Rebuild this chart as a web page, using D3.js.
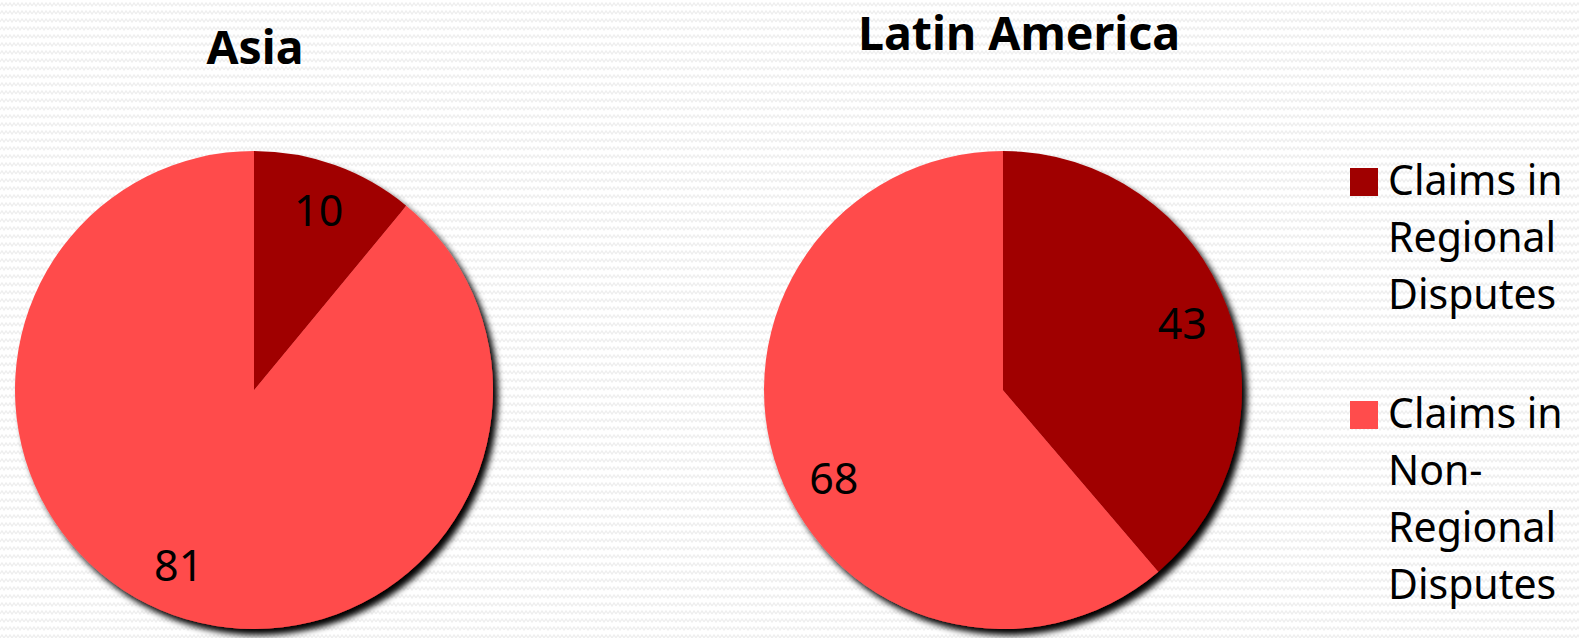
<!DOCTYPE html>
<html>
<head>
<meta charset="utf-8">
<script src="https://cdn.jsdelivr.net/npm/d3@7"></script>
<style>
  html, body { margin: 0; padding: 0; background: #fff; }
  svg { display: block; font-family: "Noto Sans", "Open Sans", sans-serif; }
</style>
</head>
<body>
<svg id="chart" width="1579" height="638"></svg>
<script>
// data
const categories = ["Claims in Regional Disputes", "Claims in Non-Regional Disputes"];
const regions = ["Asia", "Latin America"];
const asiaValues = [10, 81];
const latinValues = [43, 68];
const legendLines = [
  ["Claims in", "Regional", "Disputes"],
  ["Claims in", "Non-", "Regional", "Disputes"]
];
const colors = ["#A00000", "#FF4C4C"];

const svg = d3.select("#chart");
const W = 1579, H = 638;

// background zigzag pattern
const defs = svg.append("defs");
const pat = defs.append("pattern")
  .attr("id", "zig")
  .attr("width", 8).attr("height", 8)
  .attr("patternUnits", "userSpaceOnUse");
pat.append("polyline")
  .attr("points", "0,6 2,3 4,6 6,3 8,6")
  .attr("fill", "none")
  .attr("stroke", "#eeeeee")
  .attr("stroke-width", 1.3);

const shadow = defs.append("filter")
  .attr("id", "shadow")
  .attr("x", "-10%").attr("y", "-10%")
  .attr("width", "125%").attr("height", "125%");
shadow.append("feDropShadow")
  .attr("dx", 5).attr("dy", 6)
  .attr("stdDeviation", 3)
  .attr("flood-color", "#000")
  .attr("flood-opacity", 1);

svg.append("rect").attr("width", W).attr("height", H).attr("fill", "#fff");
svg.append("rect").attr("width", W).attr("height", H).attr("fill", "url(#zig)");

const color = d3.scaleOrdinal().domain(categories).range(colors);
const pie = d3.pie().sort(null).value(d => d.value);
const R = 239;
const arc = d3.arc().innerRadius(0).outerRadius(R);
const labelArc = d3.arc().innerRadius(R * 0.8).outerRadius(R * 0.8);

// label angle nudge (radians) for the big slice, Excel best-fit look
const charts = [
  { name: regions[0], values: asiaValues, cx: 254, cy: 390, titleX: 255, titleY: 64, titleW: 97, nudge: 0.06 },
  { name: regions[1], values: latinValues, cx: 1003, cy: 390, titleX: 1019, titleY: 50, titleW: 322, nudge: -0.13 }
];

charts.forEach(c => {
  const data = categories.map((k, i) => ({ key: k, value: c.values[i] }));
  const g = svg.append("g").attr("transform", `translate(${c.cx},${c.cy})`);

  g.append("g")
    .attr("filter", "url(#shadow)")
    .selectAll("path")
    .data(pie(data))
    .join("path")
      .attr("d", arc)
      .attr("fill", d => color(d.data.key));

  g.selectAll("text.val")
    .data(pie(data))
    .join("text")
      .attr("class", "val")
      .attr("transform", (d, i) => {
        const n = i === 1 ? c.nudge : 0;
        const p = labelArc.centroid({ startAngle: d.startAngle + n, endAngle: d.endAngle + n });
        return `translate(${p})`;
      })
      .attr("text-anchor", "middle")
      .attr("dy", "0.36em")
      .attr("font-size", 43)
      .attr("fill", "#000")
      .text(d => d.data.value);

  svg.append("text")
    .attr("x", c.titleX)
    .attr("y", c.titleY)
    .attr("text-anchor", "middle")
    .attr("font-size", 47)
    .attr("font-weight", 700)
    .attr("textLength", c.titleW)
    .attr("lengthAdjust", "spacingAndGlyphs")
    .text(c.name);
});

// legend
const legendY = [168, 401];
const legend = svg.append("g");
categories.forEach((k, i) => {
  const lg = legend.append("g").attr("transform", `translate(1350,${legendY[i]})`);
  lg.append("rect")
    .attr("width", 28).attr("height", 28)
    .attr("fill", color(k));
  lg.append("text")
    .attr("font-size", 41)
    .attr("fill", "#000")
    .selectAll("tspan")
    .data(legendLines[i])
    .join("tspan")
      .attr("x", 38)
      .attr("y", (d, j) => 27 + j * 57)
      .text(d => d);
});
</script>
</body>
</html>
